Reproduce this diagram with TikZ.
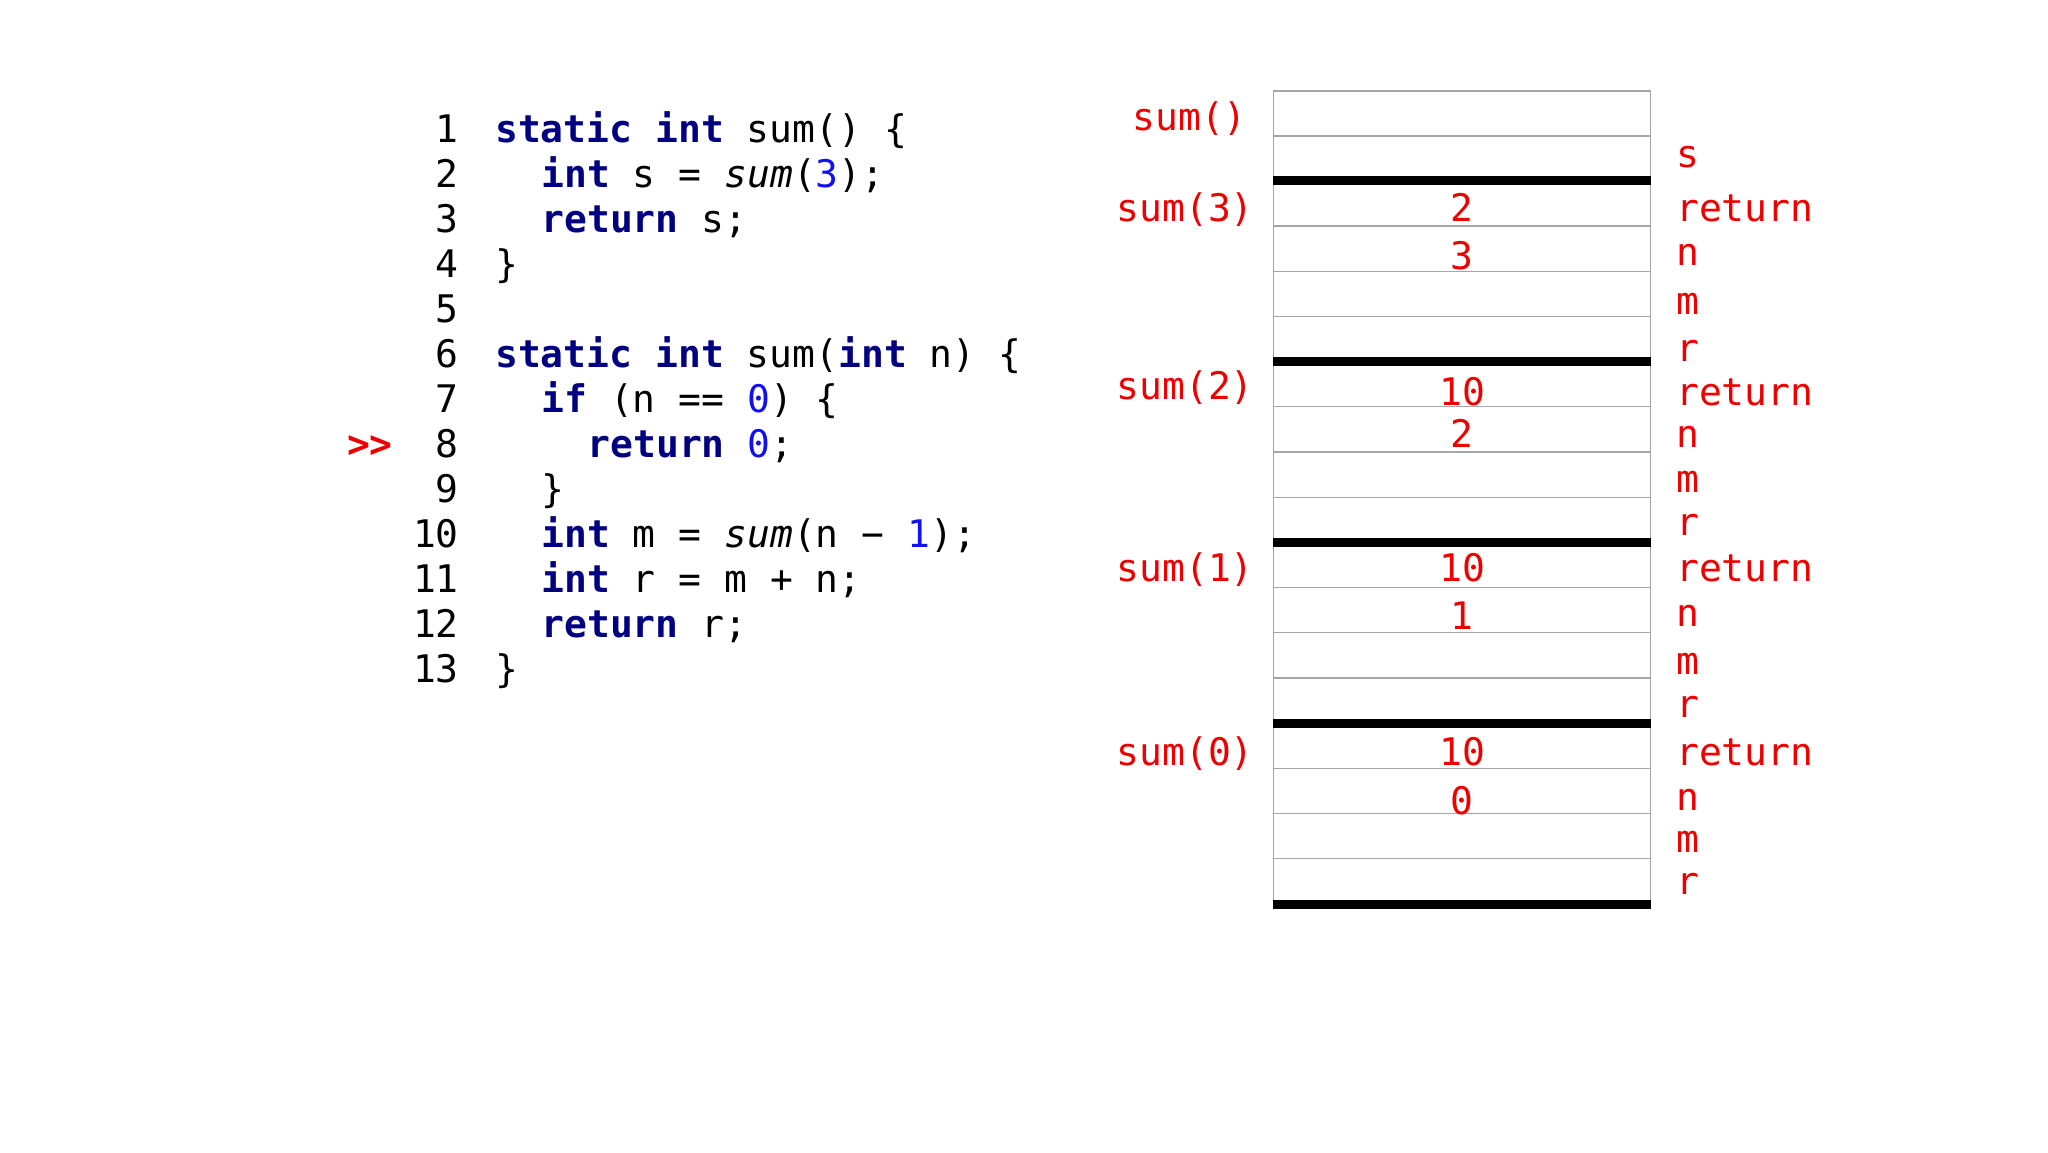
\documentclass[tikz,border=0pt]{standalone}
\usepackage{fontspec}
\newfontfamily\code{DejaVu Sans Mono}
\definecolor{kw}{HTML}{000080}
\definecolor{num}{HTML}{1010F0}
\definecolor{lab}{HTML}{EE0000}
\newcommand{\kw}[1]{\textcolor{kw}{\bfseries #1}}
\newcommand{\nm}[1]{\textcolor{num}{#1}}
\begin{document}
\begin{tikzpicture}[x=1pt,y=-1pt,
  txt/.style={font=\code\fontsize{38}{40}\selectfont, inner sep=0pt, anchor=base west},
  lnum/.style={txt, anchor=base east},
  redl/.style={txt, text=lab},
  redr/.style={txt, text=lab, anchor=base east},
  val/.style={txt, text=lab, anchor=base},
  thin/.style={draw=gray!70, line width=1.2pt},
  thick/.style={draw=black, line width=9pt}]
\useasboundingbox (0,0) rectangle (2048,1152);
% code
\def\cx{495}\def\cw{23.1}
\foreach \i/\ind/\t in {1/0/{\kw{static} \kw{int} sum() \{},
  2/2/{\kw{int} s = \textit{sum}(\nm{3});},
  3/2/{\kw{return} s;},
  4/0/{\}},
  5/0/{},
  6/0/{\kw{static} \kw{int} sum(\kw{int} n) \{},
  7/2/{\kw{if} (n == \nm{0}) \{},
  8/4/{\kw{return} \nm{0};},
  9/2/{\}},
  10/2/{\kw{int} m = \textit{sum}(n − \nm{1});},
  11/2/{\kw{int} r = m + n;},
  12/2/{\kw{return} r;},
  13/0/{\}}}{
  \node[lnum] (n\i) at (459,{128+45*(\i-1)+14}) {\i};
  \node[txt] (c\i) at ({\cx+\cw*\ind},{128+45*(\i-1)+14}) {\t};
}
\node[txt, text=lab, font=\code\bfseries\fontsize{38}{40}\selectfont] (pc) at (345,{128+45*7+14}) {};
\node[txt, text=lab, anchor=base east, font=\code\bfseries\fontsize{38}{40}\selectfont] (ptr) at (393,{128+45*7+14}) {>>};
% stack
\def\L{1273.4}\def\R{1650.8}
\draw[thin] (\L,91) rectangle (\R,903.9);
\draw[thin] (\L,135.9) -- (\R,135.9);
\foreach \f in {0,1,2,3}{
  \foreach \r in {1,2,3}{
    \draw[thin] (\L,{180.8+180.8*\f+45.2*\r}) -- (\R,{180.8+180.8*\f+45.2*\r});
  }
}
\foreach \f in {0,1,2,3,4}{
  \draw[thick] (\L,{180.8+180.8*\f}) -- (\R,{180.8+180.8*\f});
}
% left labels
\node[redr] (l0) at (1247,{116+14}) {sum()};
\node[redr] (l3) at (1254,{207+14}) {sum(3)};
\node[redr] (l2) at (1254,{385+14}) {sum(2)};
\node[redr] (l1) at (1254,{567+14}) {sum(1)};
\node[redr] (lz) at (1254,{751+14}) {sum(0)};
% right labels
\node[redl] (rs) at (1676,{153+14}) {s};
\foreach \f/\a/\b/\c/\d in {0/207/251/300/347, 1/391/433/478/521, 2/567/612/660/703, 3/751/796/838/880}{
  \node[redl] (rr\f) at (1676,{\a+14}) {return};
  \node[redl] (rn\f) at (1676,{\b+14}) {n};
  \node[redl] (rm\f) at (1676,{\c+14}) {m};
  \node[redl] (rv\f) at (1676,{\d+14}) {r};
}
% values
\node[val] (v1) at (1462,{207+14}) {2};
\node[val] (v2) at (1462,{255+14}) {3};
\node[val] (v3) at (1462,{391+14}) {10};
\node[val] (v4) at (1462,{433+14}) {2};
\node[val] (v5) at (1462,{567+14}) {10};
\node[val] (v6) at (1462,{615+14}) {1};
\node[val] (v7) at (1462,{751+14}) {10};
\node[val] (v8) at (1462,{800+14}) {0};
\end{tikzpicture}
\end{document}
